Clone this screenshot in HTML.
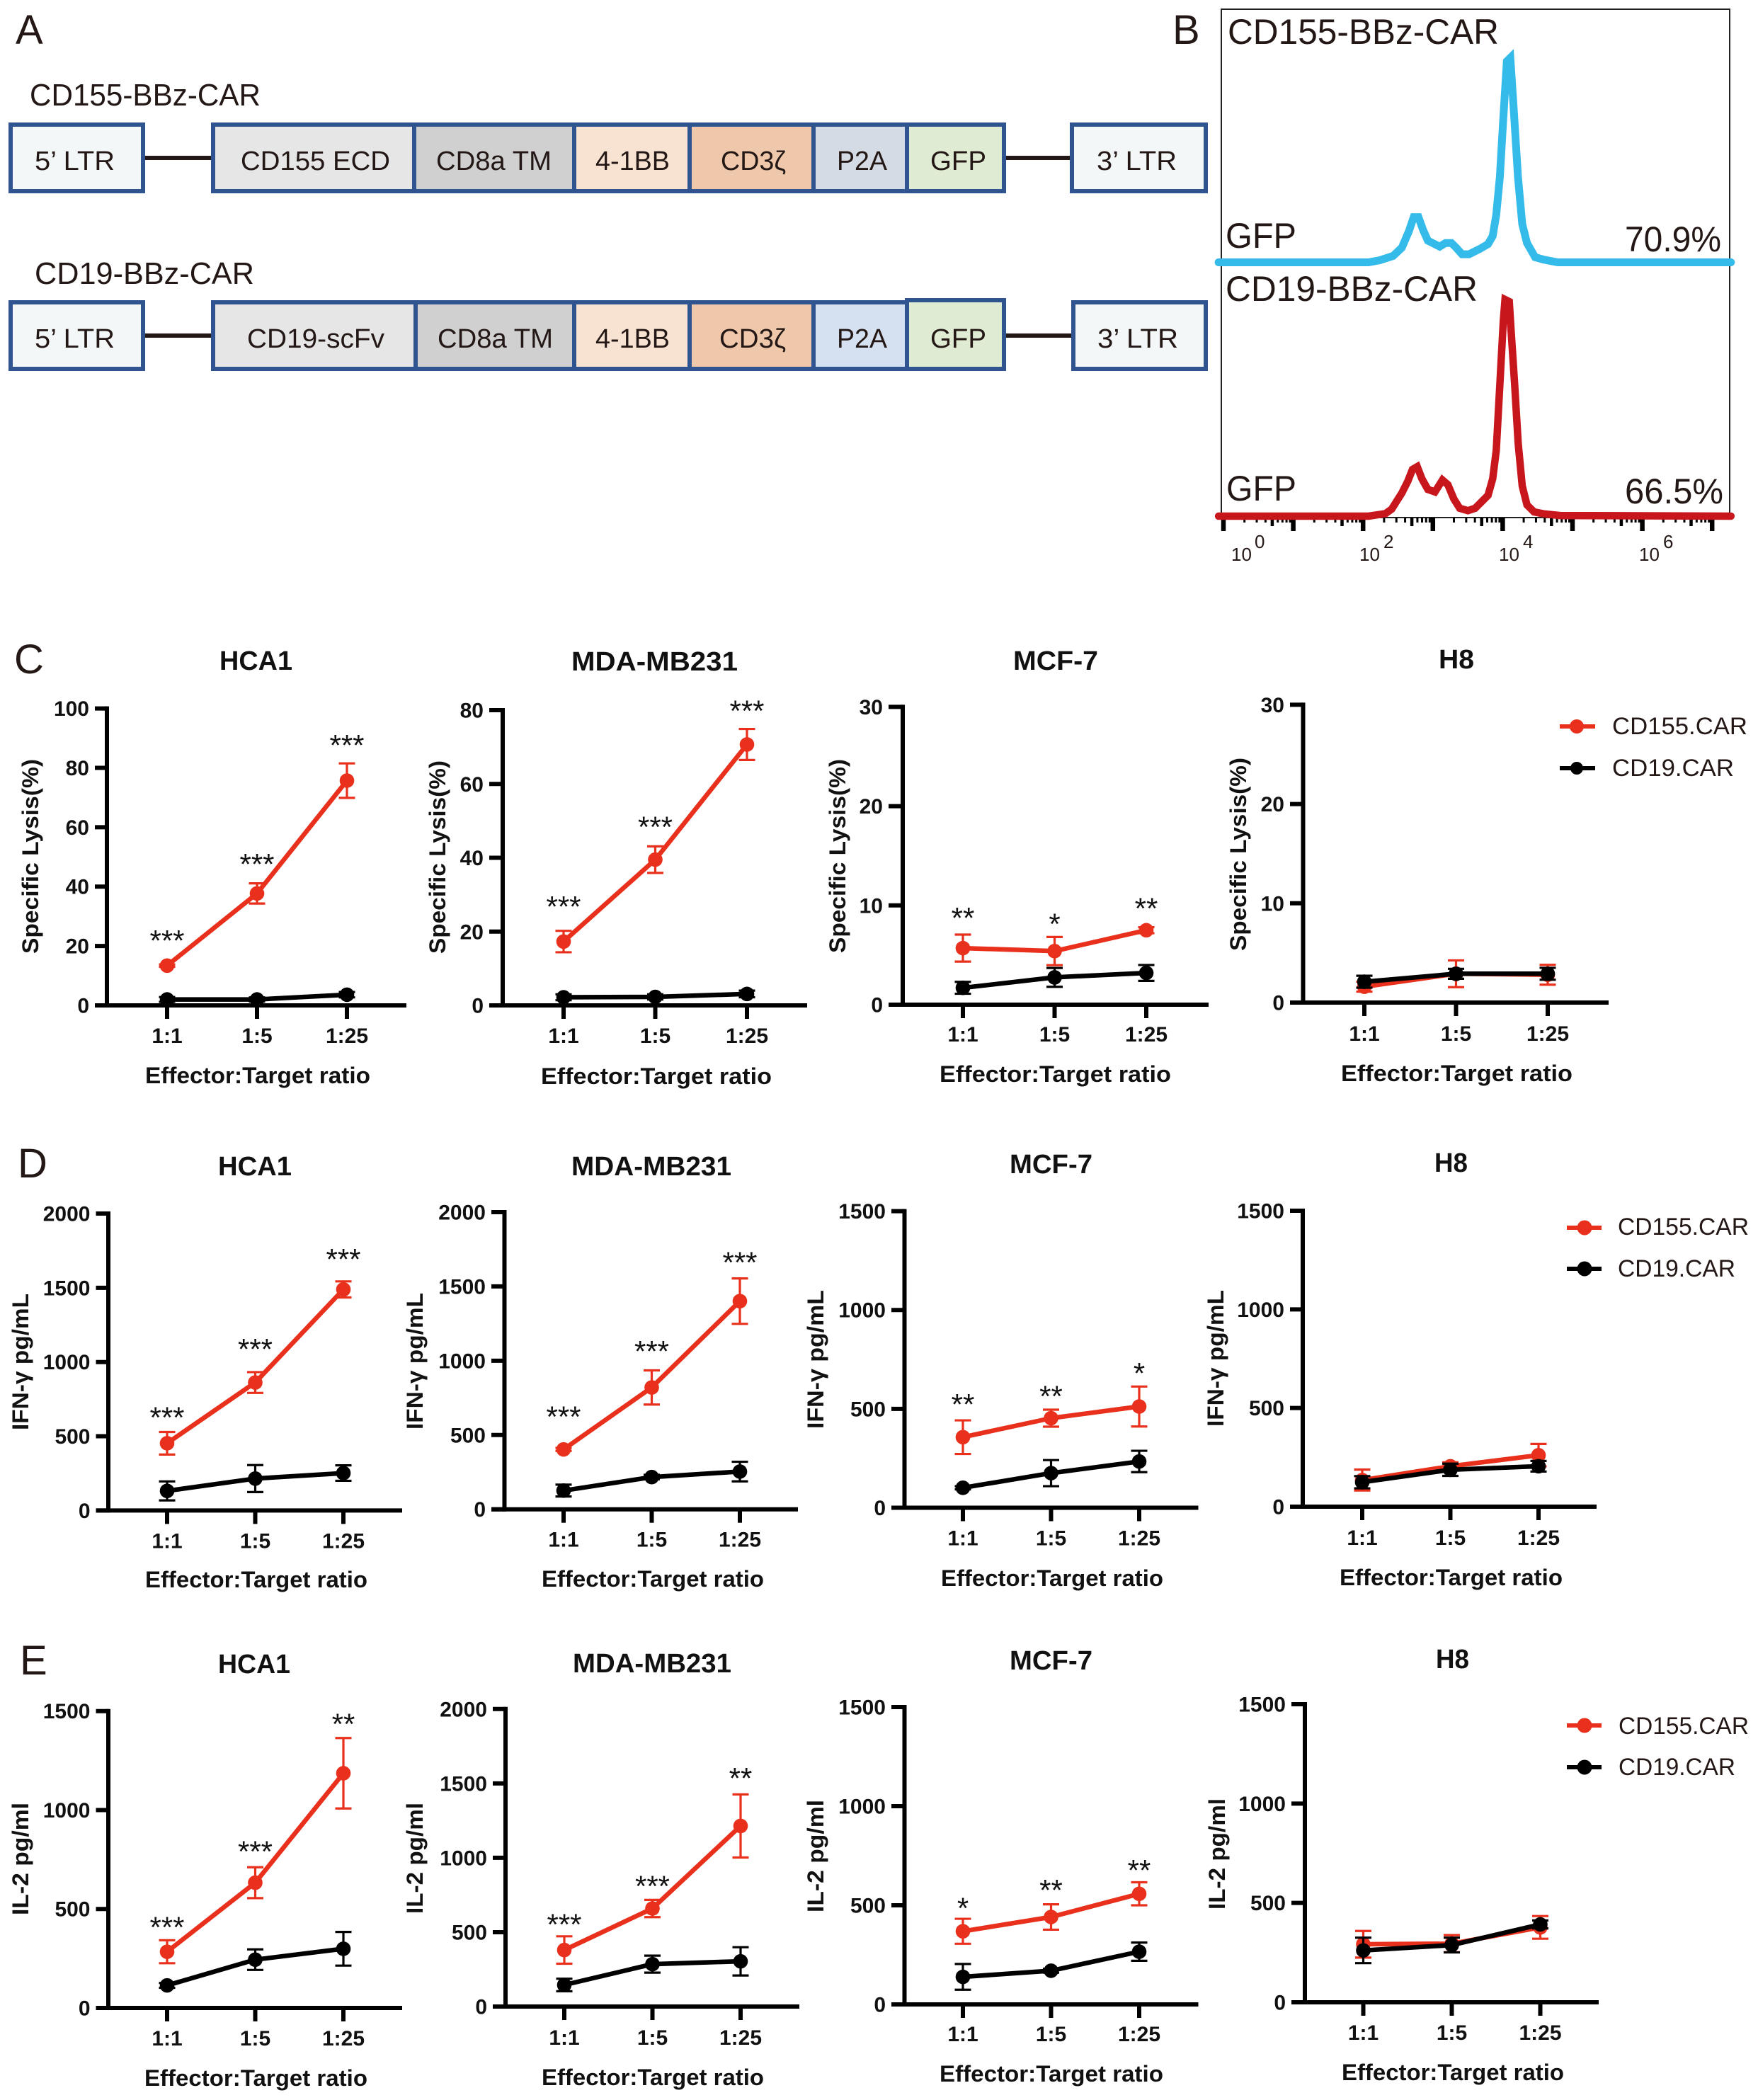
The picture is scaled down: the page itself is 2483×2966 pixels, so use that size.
<!DOCTYPE html>
<html lang="en">
<head>
<meta charset="utf-8">
<title>CD155 CAR construct, expression and function</title>
<style>
html,body{margin:0;padding:0;background:#fff;}
svg{display:block;}
text{font-family:"Liberation Sans",sans-serif;fill:#231815;}
.letter{font-size:58px;}
.box{font-size:38px;}
.con{font-size:44px;}
.flow{font-size:50px;}
.ft{font-size:26px;}
.title{font-size:38px;font-weight:bold;text-anchor:start;fill:#111;}
.xl{font-size:32px;font-weight:bold;fill:#111;}
.yl{font-size:32px;font-weight:bold;fill:#111;}
.tl{font-size:30px;font-weight:bold;fill:#111;}
.leg{font-size:34px;}
.star{font-size:42px;text-anchor:middle;fill:#111;}
</style>
</head>
<body>
<svg id="figure" xmlns="http://www.w3.org/2000/svg" width="2483" height="2966" viewBox="0 0 2483 2966">
<rect x="0" y="0" width="2483" height="2966" fill="#fff"/>

<!-- Panel letters -->
<text class="letter" x="22" y="62">A</text>
<text class="letter" x="1656" y="62">B</text>
<text class="letter" x="20" y="951">C</text>
<text class="letter" x="25" y="1663">D</text>
<text class="letter" x="28" y="2365">E</text>

<!-- Panel A row 1 -->
<g stroke="#2f5490" stroke-width="6">
<text class="con" stroke="none" x="42" y="149" textLength="326" lengthAdjust="spacingAndGlyphs">CD155-BBz-CAR</text>
<line x1="205" x2="298" y1="223" y2="223" stroke="#231815"/>
<line x1="1421" x2="1511" y1="223" y2="223" stroke="#231815"/>
<rect x="15" y="176" width="187" height="94" fill="#f4f7f8"/>
<rect x="301" y="176" width="284" height="94" fill="#e6e6e7"/>
<rect x="585" y="176" width="226" height="94" fill="#d0d0d1"/>
<rect x="811" y="176" width="163" height="94" fill="#f8e3d3"/>
<rect x="974" y="176" width="175" height="94" fill="#efc7aa"/>
<rect x="1149" y="176" width="132" height="94" fill="#d4dbe5"/>
<rect x="1281" y="176" width="137" height="94" fill="#dfecd3"/>
<rect x="1514" y="176" width="189" height="94" fill="#f4f7f8"/>
<g stroke="none">
<text class="box" x="49" y="240" textLength="113" lengthAdjust="spacingAndGlyphs">5’ LTR</text>
<text class="box" x="340" y="240" textLength="211" lengthAdjust="spacingAndGlyphs">CD155 ECD</text>
<text class="box" x="616" y="240" textLength="163" lengthAdjust="spacingAndGlyphs">CD8a TM</text>
<text class="box" x="841" y="240" textLength="105" lengthAdjust="spacingAndGlyphs">4-1BB</text>
<text class="box" x="1018" y="240" textLength="92" lengthAdjust="spacingAndGlyphs">CD3ζ</text>
<text class="box" x="1182" y="240" textLength="71" lengthAdjust="spacingAndGlyphs">P2A</text>
<text class="box" x="1314" y="240" textLength="79" lengthAdjust="spacingAndGlyphs">GFP</text>
<text class="box" x="1549" y="240" textLength="113" lengthAdjust="spacingAndGlyphs">3’ LTR</text>
</g>
</g>

<!-- Panel A row 2 -->
<g stroke="#2f5490" stroke-width="6">
<text class="con" stroke="none" x="49" y="401" textLength="310" lengthAdjust="spacingAndGlyphs">CD19-BBz-CAR</text>
<line x1="205" x2="298" y1="474" y2="474" stroke="#231815"/>
<line x1="1421" x2="1513" y1="474" y2="474" stroke="#231815"/>
<rect x="15" y="427" width="187" height="94" fill="#f4f7f8"/>
<rect x="301" y="427" width="286" height="94" fill="#e6e6e7"/>
<rect x="587" y="427" width="224" height="94" fill="#d0d0d1"/>
<rect x="811" y="427" width="163" height="94" fill="#f8e3d3"/>
<rect x="974" y="427" width="175" height="94" fill="#efc7aa"/>
<rect x="1149" y="427" width="132" height="94" fill="#d5e0f0"/>
<rect x="1281" y="424" width="137" height="97" fill="#dfecd3"/>
<rect x="1516" y="427" width="187" height="94" fill="#f4f7f8"/>
<g stroke="none">
<text class="box" x="49" y="491" textLength="113" lengthAdjust="spacingAndGlyphs">5’ LTR</text>
<text class="box" x="349" y="491" textLength="194" lengthAdjust="spacingAndGlyphs">CD19-scFv</text>
<text class="box" x="618" y="491" textLength="163" lengthAdjust="spacingAndGlyphs">CD8a TM</text>
<text class="box" x="841" y="491" textLength="105" lengthAdjust="spacingAndGlyphs">4-1BB</text>
<text class="box" x="1016" y="491" textLength="94" lengthAdjust="spacingAndGlyphs">CD3ζ</text>
<text class="box" x="1182" y="491" textLength="71" lengthAdjust="spacingAndGlyphs">P2A</text>
<text class="box" x="1314" y="491" textLength="79" lengthAdjust="spacingAndGlyphs">GFP</text>
<text class="box" x="1550" y="491" textLength="114" lengthAdjust="spacingAndGlyphs">3’ LTR</text>
</g>
</g>

<!-- Panel B static -->
<g>
<rect x="1725" y="13" width="718" height="718" fill="none" stroke="#222" stroke-width="2"/>
<text class="flow" x="1734" y="62" textLength="383" lengthAdjust="spacingAndGlyphs">CD155-BBz-CAR</text>
<text class="flow" x="1731" y="350" textLength="100" lengthAdjust="spacingAndGlyphs">GFP</text>
<text class="flow" x="2295" y="355" textLength="136" lengthAdjust="spacingAndGlyphs">70.9%</text>
<text class="flow" x="1731" y="425" textLength="356" lengthAdjust="spacingAndGlyphs">CD19-BBz-CAR</text>
<text class="flow" x="1732" y="707" textLength="99" lengthAdjust="spacingAndGlyphs">GFP</text>
<text class="flow" x="2295" y="711" textLength="139" lengthAdjust="spacingAndGlyphs">66.5%</text>
<text class="ft" x="1739" y="792">10</text>
<text class="ft" x="1772" y="774">0</text>
<text class="ft" x="1920" y="792">10</text>
<text class="ft" x="1954" y="774">2</text>
<text class="ft" x="2117" y="792">10</text>
<text class="ft" x="2151" y="774">4</text>
<text class="ft" x="2315" y="792">10</text>
<text class="ft" x="2349" y="774">6</text>
<g id="flow-marks"></g>
</g>

<!-- Chart titles -->
<g>
<text class="title" x="310" y="946" textLength="103" lengthAdjust="spacingAndGlyphs">HCA1</text>
<text class="title" x="807" y="947" textLength="235" lengthAdjust="spacingAndGlyphs">MDA-MB231</text>
<text class="title" x="1431" y="946" textLength="120" lengthAdjust="spacingAndGlyphs">MCF-7</text>
<text class="title" x="2032" y="944" textLength="50" lengthAdjust="spacingAndGlyphs">H8</text>
<text class="title" x="308" y="1660" textLength="104" lengthAdjust="spacingAndGlyphs">HCA1</text>
<text class="title" x="807" y="1660" textLength="226" lengthAdjust="spacingAndGlyphs">MDA-MB231</text>
<text class="title" x="1426" y="1657" textLength="117" lengthAdjust="spacingAndGlyphs">MCF-7</text>
<text class="title" x="2026" y="1655" textLength="47" lengthAdjust="spacingAndGlyphs">H8</text>
<text class="title" x="308" y="2363" textLength="102" lengthAdjust="spacingAndGlyphs">HCA1</text>
<text class="title" x="809" y="2362" textLength="224" lengthAdjust="spacingAndGlyphs">MDA-MB231</text>
<text class="title" x="1426" y="2358" textLength="117" lengthAdjust="spacingAndGlyphs">MCF-7</text>
<text class="title" x="2028" y="2356" textLength="47" lengthAdjust="spacingAndGlyphs">H8</text>
</g>

<!-- X axis titles -->
<g>
<text class="xl" x="205" y="1530" textLength="318" lengthAdjust="spacingAndGlyphs">Effector:Target ratio</text>
<text class="xl" x="764" y="1531" textLength="326" lengthAdjust="spacingAndGlyphs">Effector:Target ratio</text>
<text class="xl" x="1327" y="1528" textLength="327" lengthAdjust="spacingAndGlyphs">Effector:Target ratio</text>
<text class="xl" x="1894" y="1527" textLength="327" lengthAdjust="spacingAndGlyphs">Effector:Target ratio</text>
<text class="xl" x="205" y="2242" textLength="314" lengthAdjust="spacingAndGlyphs">Effector:Target ratio</text>
<text class="xl" x="765" y="2241" textLength="314" lengthAdjust="spacingAndGlyphs">Effector:Target ratio</text>
<text class="xl" x="1329" y="2240" textLength="314" lengthAdjust="spacingAndGlyphs">Effector:Target ratio</text>
<text class="xl" x="1892" y="2239" textLength="315" lengthAdjust="spacingAndGlyphs">Effector:Target ratio</text>
<text class="xl" x="204" y="2946" textLength="315" lengthAdjust="spacingAndGlyphs">Effector:Target ratio</text>
<text class="xl" x="765" y="2945" textLength="314" lengthAdjust="spacingAndGlyphs">Effector:Target ratio</text>
<text class="xl" x="1327" y="2940" textLength="316" lengthAdjust="spacingAndGlyphs">Effector:Target ratio</text>
<text class="xl" x="1895" y="2938" textLength="314" lengthAdjust="spacingAndGlyphs">Effector:Target ratio</text>
</g>

<!-- Y axis titles -->
<g>
<text class="yl" x="54" y="1347" transform="rotate(-90 54 1347)" textLength="275" lengthAdjust="spacingAndGlyphs">Specific Lysis(%)</text>
<text class="yl" x="629" y="1347" transform="rotate(-90 629 1347)" textLength="273" lengthAdjust="spacingAndGlyphs">Specific Lysis(%)</text>
<text class="yl" x="1194" y="1346" transform="rotate(-90 1194 1346)" textLength="274" lengthAdjust="spacingAndGlyphs">Specific Lysis(%)</text>
<text class="yl" x="1760" y="1343" transform="rotate(-90 1760 1343)" textLength="273" lengthAdjust="spacingAndGlyphs">Specific Lysis(%)</text>
<text class="yl" x="40" y="2020" transform="rotate(-90 40 2020)" textLength="193" lengthAdjust="spacingAndGlyphs">IFN-γ pg/mL</text>
<text class="yl" x="597" y="2019" transform="rotate(-90 597 2019)" textLength="193" lengthAdjust="spacingAndGlyphs">IFN-γ pg/mL</text>
<text class="yl" x="1163" y="2018" transform="rotate(-90 1163 2018)" textLength="196" lengthAdjust="spacingAndGlyphs">IFN-γ pg/mL</text>
<text class="yl" x="1728" y="2015" transform="rotate(-90 1728 2015)" textLength="193" lengthAdjust="spacingAndGlyphs">IFN-γ pg/mL</text>
<text class="yl" x="40" y="2705" transform="rotate(-90 40 2705)" textLength="159" lengthAdjust="spacingAndGlyphs">IL-2 pg/ml</text>
<text class="yl" x="597" y="2703" transform="rotate(-90 597 2703)" textLength="157" lengthAdjust="spacingAndGlyphs">IL-2 pg/ml</text>
<text class="yl" x="1163" y="2701" transform="rotate(-90 1163 2701)" textLength="159" lengthAdjust="spacingAndGlyphs">IL-2 pg/ml</text>
<text class="yl" x="1730" y="2697" transform="rotate(-90 1730 2697)" textLength="157" lengthAdjust="spacingAndGlyphs">IL-2 pg/ml</text>
</g>

<!-- Legends -->
<g>
<g><line x1="2203" x2="2253" y1="1026" y2="1026" stroke="#e8301c" stroke-width="6"/><circle cx="2227" cy="1026" r="10" fill="#e8301c"/><text class="leg" x="2277" y="1037" textLength="191" lengthAdjust="spacingAndGlyphs">CD155.CAR</text></g>
<g><line x1="2203" x2="2253" y1="1085" y2="1085" stroke="#000" stroke-width="6"/><circle cx="2227" cy="1085" r="9" fill="#000"/><text class="leg" x="2277" y="1096" textLength="172" lengthAdjust="spacingAndGlyphs">CD19.CAR</text></g>
</g>
<g>
<g><line x1="2213" x2="2262" y1="1734" y2="1734" stroke="#e8301c" stroke-width="6"/><circle cx="2238" cy="1734" r="10.5" fill="#e8301c"/><text class="leg" x="2285" y="1744" textLength="185" lengthAdjust="spacingAndGlyphs">CD155.CAR</text></g>
<g><line x1="2213" x2="2262" y1="1792" y2="1792" stroke="#000" stroke-width="6"/><circle cx="2238" cy="1792" r="10.5" fill="#000"/><text class="leg" x="2285" y="1803" textLength="166" lengthAdjust="spacingAndGlyphs">CD19.CAR</text></g>
</g>
<g>
<g><line x1="2213" x2="2262" y1="2437" y2="2437" stroke="#e8301c" stroke-width="6"/><circle cx="2238" cy="2437" r="10.5" fill="#e8301c"/><text class="leg" x="2286" y="2449" textLength="184" lengthAdjust="spacingAndGlyphs">CD155.CAR</text></g>
<g><line x1="2213" x2="2262" y1="2496" y2="2496" stroke="#000" stroke-width="6"/><circle cx="2238" cy="2496" r="10.5" fill="#000"/><text class="leg" x="2286" y="2507" textLength="165" lengthAdjust="spacingAndGlyphs">CD19.CAR</text></g>
</g>

<g id="chart-marks"></g>
</svg>

<script>
// ---------- shared categories and axis ticks ----------
const ratioCategories = ['1:1', '1:5', '1:25'];
const lysisTicks100 = [0, 20, 40, 60, 80, 100];
const lysisTicks80 = [0, 20, 40, 60, 80];
const lysisTicks30 = [0, 10, 20, 30];
const cytokineTicks2000 = [0, 500, 1000, 1500, 2000];
const cytokineTicks1500 = [0, 500, 1000, 1500];

// ---------- flow histograms (log10 GFP, relative count) ----------
const flowCd155Log = [-0.07, 2.08, 2.24, 2.43, 2.556, 2.657, 2.725, 2.793, 2.86, 2.928, 3.097, 3.181, 3.266, 3.334, 3.418, 3.519, 3.671, 3.79, 3.857, 3.908, 3.959, 4.009, 4.06, 4.11, 4.155, 4.219, 4.28, 4.348, 4.465, 4.584, 4.787, 7.27];
const flowCd155Count = [0, 0, 1, 3, 6.9, 14.7, 21.3, 21.3, 15.2, 10.2, 7.4, 9.1, 9.1, 6.9, 3.8, 3.8, 6.3, 8.6, 12.4, 22.4, 40.2, 68, 94.7, 96.3, 73.6, 40.2, 18, 9.1, 2.4, 1.3, 0, 0];
const flowCd19Log = [-0.07, 2.08, 2.32, 2.41, 2.556, 2.64, 2.708, 2.776, 2.843, 2.928, 3.029, 3.137, 3.215, 3.3, 3.384, 3.502, 3.604, 3.705, 3.79, 3.857, 3.908, 3.959, 4.009, 4.033, 4.094, 4.118, 4.171, 4.222, 4.28, 4.348, 4.449, 4.584, 4.82, 7.27];
const flowCd19Count = [0, 0, 1.2, 3.3, 10.9, 16.4, 22, 23.3, 17.6, 12.6, 11.4, 17, 14.8, 8.1, 3.7, 2.6, 3.7, 7, 9.8, 17.6, 30.9, 62, 92, 102, 101, 88.7, 62, 34.2, 14.2, 5.3, 2, 1.1, 0.3, 0];
const flowDecades = [0, 1, 2, 3, 4, 5, 6, 7];
const flowMinorMultiples = [2, 3, 4, 5, 6, 7, 8, 9];

// ---------- Specific lysis ----------
const lysisHca1Car155 = [13.4, 37.7, 75.7];
const lysisHca1Car155Err = [0.4, 3.4, 5.8];
const lysisHca1Car19 = [2, 2, 3.6];
const lysisHca1Car19Err = [0.8, 0.7, 0.9];
const lysisHca1Stars = ['***', '***', '***'];
const lysisHca1StarLevels = [23, 48.8, 88.8];

const lysisMdaCar155 = [17.3, 39.5, 70.7];
const lysisMdaCar155Err = [2.9, 3.6, 4.2];
const lysisMdaCar19 = [2.2, 2.3, 3.1];
const lysisMdaCar19Err = [0.8, 0.7, 0.9];
const lysisMdaStars = ['***', '***', '***'];
const lysisMdaStarLevels = [27.7, 49.3, 80.8];

const lysisMcfCar155 = [5.7, 5.4, 7.5];
const lysisMcfCar155Err = [1.36, 1.42, 0.3];
const lysisMcfCar19 = [1.7, 2.75, 3.2];
const lysisMcfCar19Err = [0.6, 0.95, 0.8];
const lysisMcfStars = ['**', '*', '**'];
const lysisMcfStarLevels = [9.1, 8.5, 10.05];

const lysisH8Car155 = [1.6, 2.9, 2.8];
const lysisH8Car155Err = [0.5, 1.35, 1.0];
const lysisH8Car19 = [2.1, 2.9, 2.9];
const lysisH8Car19Err = [0.6, 0.5, 0.6];
const lysisH8Stars = ['', '', ''];
const lysisH8StarLevels = [0, 0, 0];

// ---------- IFN-gamma ----------
const ifnHca1Car155 = [453, 862, 1489];
const ifnHca1Car155Err = [76, 70, 54];
const ifnHca1Car19 = [132, 215, 252];
const ifnHca1Car19Err = [64, 91, 52];
const ifnHca1Stars = ['***', '***', '***'];
const ifnHca1StarLevels = [651, 1111, 1717];

const ifnMdaCar155 = [403, 820, 1401];
const ifnMdaCar155Err = [10, 115, 153];
const ifnMdaCar19 = [126, 217, 254];
const ifnMdaCar19Err = [40, 15, 66];
const ifnMdaStars = ['***', '***', '***'];
const ifnMdaStarLevels = [647, 1087, 1686];

const ifnMcfCar155 = [357, 453, 512];
const ifnMcfCar155Err = [85, 43, 101];
const ifnMcfCar19 = [101, 175, 234];
const ifnMcfCar19Err = [8, 66, 54];
const ifnMcfStars = ['**', '**', '*'];
const ifnMcfStarLevels = [540, 582, 699];

const ifnH8Car155 = [135, 205, 261];
const ifnH8Car155Err = [53, 20, 57];
const ifnH8Car19 = [124, 187, 205];
const ifnH8Car19Err = [31, 31, 27];
const ifnH8Stars = ['', '', ''];
const ifnH8StarLevels = [0, 0, 0];

// ---------- IL-2 ----------
const il2Hca1Car155 = [284, 633, 1186];
const il2Hca1Car155Err = [58, 78, 178];
const il2Hca1Car19 = [114, 244, 299];
const il2Hca1Car19Err = [12, 52, 85];
const il2Hca1Stars = ['***', '***', '**'];
const il2Hca1StarLevels = [426, 809, 1452];

const il2MdaCar155 = [380, 659, 1214];
const il2MdaCar155Err = [92, 58, 212];
const il2MdaCar19 = [145, 285, 304];
const il2MdaCar19Err = [42, 57, 95];
const il2MdaStars = ['***', '***', '**'];
const il2MdaStarLevels = [577, 832, 1558];

const il2McfCar155 = [369, 441, 558];
const il2McfCar155Err = [63, 64, 58];
const il2McfCar19 = [139, 170, 266];
const il2McfCar19Err = [65, 10, 46];
const il2McfStars = ['*', '**', '**'];
const il2McfStarLevels = [504, 594, 695];

const il2H8Car155 = [292, 295, 377];
const il2H8Car155Err = [67, 43, 57];
const il2H8Car19 = [261, 288, 392];
const il2H8Car19Err = [64, 37, 20];
const il2H8Stars = ['', '', ''];
const il2H8StarLevels = [0, 0, 0];

// ---------- drawing helpers ----------
const NS = 'http://www.w3.org/2000/svg';
const RED = '#e8301c';
const BLACK = '#000000';

function make(tag, attrs, parent, content) {
  const el = document.createElementNS(NS, tag);
  Object.keys(attrs).forEach(function (k) { el.setAttribute(k, attrs[k]); });
  if (content !== undefined) el.textContent = content;
  parent.appendChild(el);
  return el;
}

function drawFlowCurve(logs, counts, baseY, color, width, name, parent) {
  const pts = logs.map(function (d, i) {
    return flowX(d).toFixed(1) + ',' + (baseY - counts[i] * 3).toFixed(1);
  }).join(' ');
  const el = make('polyline', {points: pts, fill: 'none', stroke: color, 'stroke-width': width, 'stroke-linejoin': 'miter', 'stroke-miterlimit': 3, 'stroke-linecap': 'round'}, parent);
  
  
}

function flowX(decade) { return 1728 + 98.6 * decade; }

function drawFlowAxis(parent) {
  flowDecades.forEach(function (d) {
    const major = make('line', {x1: flowX(d), x2: flowX(d), y1: 731, y2: 750, stroke: '#000', 'stroke-width': 6.5}, parent);
    
    
    if (d === flowDecades[flowDecades.length - 1]) return;
    flowMinorMultiples.forEach(function (m) {
      const x = flowX(d + Math.log10(m));
      const mid = m === 5;
      const minor = make('line', {x1: x, x2: x, y1: 731, y2: mid ? 743 : 738, stroke: '#000', 'stroke-width': mid ? 4.5 : 3}, parent);
      
      
    });
  });
}

function drawSeries(p, g, values, errors, color, key) {
  const xOf = function (i) { return p.xFirst + i * p.xStep; };
  const yOf = function (v) { return p.y0 - (v / p.ticks[p.ticks.length - 1]) * (p.y0 - p.yTop); };
  const pts = values.map(function (v, i) { return xOf(i).toFixed(1) + ',' + yOf(v).toFixed(1); }).join(' ');
  const line = make('polyline', {points: pts, fill: 'none', stroke: color, 'stroke-width': 6.5, 'stroke-linejoin': 'round'}, g);
  
  
  values.forEach(function (v, i) {
    const x = xOf(i);
    const hi = yOf(v + errors[i]);
    const lo = yOf(v - errors[i]);
    const stem = make('line', {x1: x, x2: x, y1: hi, y2: lo, stroke: color, 'stroke-width': 3.2}, g);
    
    
    const capTop = make('line', {x1: x - 11.5, x2: x + 11.5, y1: hi, y2: hi, stroke: color, 'stroke-width': 3.2}, g);
    
    
    const capBottom = make('line', {x1: x - 11.5, x2: x + 11.5, y1: lo, y2: lo, stroke: color, 'stroke-width': 3.2}, g);
    
    
    const dot = make('circle', {cx: x, cy: yOf(v), r: 10.3, fill: color}, g);
    
    
  });
}

function drawPanel(p, parent) {
  const g = make('g', {}, parent);
  
  
  const maxTick = p.ticks[p.ticks.length - 1];
  const yOf = function (v) { return p.y0 - (v / maxTick) * (p.y0 - p.yTop); };
  const xOf = function (i) { return p.xFirst + i * p.xStep; };

  const yAxis = make('line', {x1: p.axisX, x2: p.axisX, y1: p.yTop - 3, y2: p.y0 + 3, stroke: '#000', 'stroke-width': 6}, g);
  
  
  const xAxis = make('line', {x1: p.tickLeft, x2: p.xEnd, y1: p.y0, y2: p.y0, stroke: '#000', 'stroke-width': 6}, g);
  
  

  p.ticks.forEach(function (t) {
    const y = yOf(t);
    const tick = make('line', {x1: p.tickLeft, x2: p.axisX, y1: y, y2: y, stroke: '#000', 'stroke-width': 6}, g);
    
    
    const lab = make('text', {class: 'tl', x: p.tickLeft - 8, y: y + 10.5, 'text-anchor': 'end'}, g, String(t));
    
    
  });

  ratioCategories.forEach(function (c, i) {
    const x = xOf(i);
    const tick = make('line', {x1: x, x2: x, y1: p.y0, y2: p.y0 + 19, stroke: '#000', 'stroke-width': 6}, g);
    
    
    const lab = make('text', {class: 'tl', x: x, y: p.y0 + p.catDy, 'text-anchor': 'middle'}, g, c);
    
    
  });

  drawSeries(p, g, p.red, p.redErr, RED, 'cd155-car');
  drawSeries(p, g, p.black, p.blackErr, BLACK, 'cd19-car');

  p.stars.forEach(function (s, i) {
    if (!s) return;
    const star = make('text', {class: 'star', x: xOf(i), y: yOf(p.starLevels[i]) + 19.5}, g, s);
    
    
  });
}

// ---------- panel frames ----------
const panels = [
  {id: 'lysis-hca1', axisX: 151, y0: 1420, yTop: 1000.6, tickLeft: 134, xEnd: 574, xFirst: 236, xStep: 127, catDy: 53, ticks: lysisTicks100, red: lysisHca1Car155, redErr: lysisHca1Car155Err, black: lysisHca1Car19, blackErr: lysisHca1Car19Err, stars: lysisHca1Stars, starLevels: lysisHca1StarLevels},
  {id: 'lysis-mda', axisX: 710, y0: 1420, yTop: 1003, tickLeft: 691, xEnd: 1140, xFirst: 796, xStep: 129.5, catDy: 53, ticks: lysisTicks80, red: lysisMdaCar155, redErr: lysisMdaCar155Err, black: lysisMdaCar19, blackErr: lysisMdaCar19Err, stars: lysisMdaStars, starLevels: lysisMdaStarLevels},
  {id: 'lysis-mcf7', axisX: 1275, y0: 1419, yTop: 998.4, tickLeft: 1255, xEnd: 1707, xFirst: 1360, xStep: 129.5, catDy: 52, ticks: lysisTicks30, red: lysisMcfCar155, redErr: lysisMcfCar155Err, black: lysisMcfCar19, blackErr: lysisMcfCar19Err, stars: lysisMcfStars, starLevels: lysisMcfStarLevels},
  {id: 'lysis-h8', axisX: 1840.5, y0: 1416, yTop: 995.4, tickLeft: 1822, xEnd: 2272, xFirst: 1927, xStep: 129.5, catDy: 54, ticks: lysisTicks30, red: lysisH8Car155, redErr: lysisH8Car155Err, black: lysisH8Car19, blackErr: lysisH8Car19Err, stars: lysisH8Stars, starLevels: lysisH8StarLevels},
  {id: 'ifn-hca1', axisX: 153, y0: 2133.4, yTop: 1714, tickLeft: 135.5, xEnd: 568, xFirst: 236, xStep: 124.5, catDy: 53, ticks: cytokineTicks2000, red: ifnHca1Car155, redErr: ifnHca1Car155Err, black: ifnHca1Car19, blackErr: ifnHca1Car19Err, stars: ifnHca1Stars, starLevels: ifnHca1StarLevels},
  {id: 'ifn-mda', axisX: 712.5, y0: 2131.7, yTop: 1712, tickLeft: 694, xEnd: 1127, xFirst: 796, xStep: 124.5, catDy: 53, ticks: cytokineTicks2000, red: ifnMdaCar155, redErr: ifnMdaCar155Err, black: ifnMdaCar19, blackErr: ifnMdaCar19Err, stars: ifnMdaStars, starLevels: ifnMdaStarLevels},
  {id: 'ifn-mcf7', axisX: 1277.5, y0: 2129.5, yTop: 1710.6, tickLeft: 1259, xEnd: 1692.5, xFirst: 1360, xStep: 124.5, catDy: 53, ticks: cytokineTicks1500, red: ifnMcfCar155, redErr: ifnMcfCar155Err, black: ifnMcfCar19, blackErr: ifnMcfCar19Err, stars: ifnMcfStars, starLevels: ifnMcfStarLevels},
  {id: 'ifn-h8', axisX: 1840, y0: 2128, yTop: 1710, tickLeft: 1822, xEnd: 2255, xFirst: 1924, xStep: 124.5, catDy: 54, ticks: cytokineTicks1500, red: ifnH8Car155, redErr: ifnH8Car155Err, black: ifnH8Car19, blackErr: ifnH8Car19Err, stars: ifnH8Stars, starLevels: ifnH8StarLevels},
  {id: 'il2-hca1', axisX: 153, y0: 2836, yTop: 2416.7, tickLeft: 135.5, xEnd: 568, xFirst: 236, xStep: 124.5, catDy: 53, ticks: cytokineTicks1500, red: il2Hca1Car155, redErr: il2Hca1Car155Err, black: il2Hca1Car19, blackErr: il2Hca1Car19Err, stars: il2Hca1Stars, starLevels: il2Hca1StarLevels},
  {id: 'il2-mda', axisX: 714, y0: 2834, yTop: 2413.8, tickLeft: 696, xEnd: 1129, xFirst: 797, xStep: 124.5, catDy: 54, ticks: cytokineTicks2000, red: il2MdaCar155, redErr: il2MdaCar155Err, black: il2MdaCar19, blackErr: il2MdaCar19Err, stars: il2MdaStars, starLevels: il2MdaStarLevels},
  {id: 'il2-mcf7', axisX: 1277.5, y0: 2831, yTop: 2411, tickLeft: 1259, xEnd: 1692.5, xFirst: 1360, xStep: 124.5, catDy: 52, ticks: cytokineTicks1500, red: il2McfCar155, redErr: il2McfCar155Err, black: il2McfCar19, blackErr: il2McfCar19Err, stars: il2McfStars, starLevels: il2McfStarLevels},
  {id: 'il2-h8', axisX: 1843, y0: 2828, yTop: 2407, tickLeft: 1824, xEnd: 2258, xFirst: 1925.5, xStep: 125, catDy: 53, ticks: cytokineTicks1500, red: il2H8Car155, redErr: il2H8Car155Err, black: il2H8Car19, blackErr: il2H8Car19Err, stars: il2H8Stars, starLevels: il2H8StarLevels}
];

const flowLayer = document.getElementById('flow-marks');
drawFlowAxis(flowLayer);
drawFlowCurve(flowCd155Log, flowCd155Count, 370.5, '#35bbea', 11, 'cd155-histogram', flowLayer);
drawFlowCurve(flowCd19Log, flowCd19Count, 729, '#c8161d', 10.5, 'cd19-histogram', flowLayer);

const chartLayer = document.getElementById('chart-marks');
panels.forEach(function (p) { drawPanel(p, chartLayer); });
</script>
</body>
</html>
